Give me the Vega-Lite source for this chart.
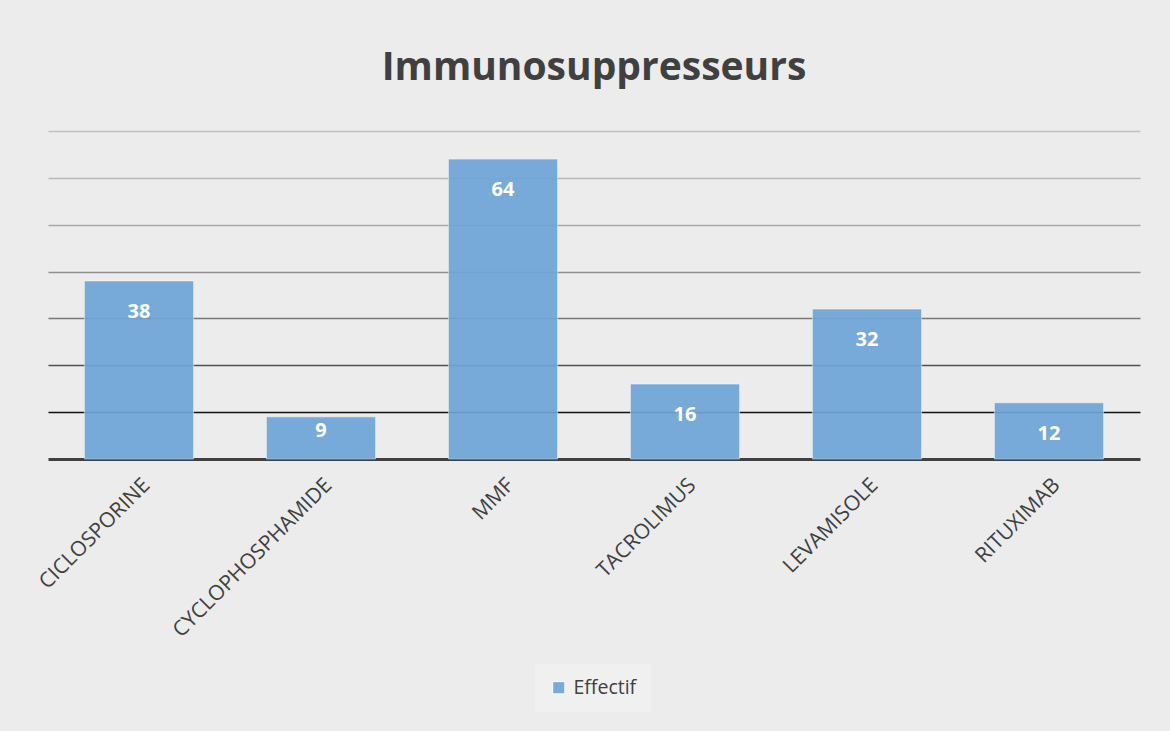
{
  "$schema": "https://vega.github.io/schema/vega-lite/v6.json",
  "width": 1092,
  "height": 328,
  "autosize": {"type": "none"},
  "padding": {"left": 48, "top": 131, "right": 30, "bottom": 272},
  "background": "#ececec",
  "config": {"view": {"stroke": null}},
  "title": {
    "text": "Immunosuppresseurs",
    "font": "Open Sans",
    "fontSize": 39,
    "fontWeight": "bold",
    "color": "#404040",
    "anchor": "middle",
    "offset": 43
  },
  "data": {
    "values": [
      {"med": "CICLOSPORINE", "n": 38, "serie": "Effectif"},
      {"med": "CYCLOPHOSPHAMIDE", "n": 9, "serie": "Effectif"},
      {"med": "MMF", "n": 64, "serie": "Effectif"},
      {"med": "TACROLIMUS", "n": 16, "serie": "Effectif"},
      {"med": "LEVAMISOLE", "n": 32, "serie": "Effectif"},
      {"med": "RITUXIMAB", "n": 12, "serie": "Effectif"}
    ]
  },
  "encoding": {
    "x": {
      "field": "med",
      "type": "nominal",
      "sort": null,
      "scale": {"paddingInner": 0.4, "paddingOuter": 0.2},
      "axis": {
        "title": null,
        "labelAngle": -45,
        "labelFont": "Open Sans",
        "labelFontSize": 21,
        "labelColor": "#404040",
        "labelPadding": 15,
        "labelLimit": 400,
        "ticks": false,
        "domainColor": "#404040",
        "domainWidth": 3,
        "grid": false
      }
    },
    "y": {
      "field": "n",
      "type": "quantitative",
      "scale": {"domain": [0, 70], "nice": false},
      "axis": {
        "title": null,
        "labels": false,
        "ticks": false,
        "domain": false,
        "values": [10, 20, 30, 40, 50, 60, 70],
        "grid": true,
        "gridWidth": 1.5,
        "gridColor": {
          "condition": [
            {"test": "datum.value === 10", "value": "#111111"},
            {"test": "datum.value === 20", "value": "#505050"},
            {"test": "datum.value === 30", "value": "#777777"},
            {"test": "datum.value === 40", "value": "#909090"},
            {"test": "datum.value === 50", "value": "#a8a8a8"},
            {"test": "datum.value === 60", "value": "#b8b8b8"}
          ],
          "value": "#c0c0c0"
        }
      }
    }
  },
  "layer": [
    {
      "mark": {"type": "bar", "opacity": 0.92, "stroke": "#ffffff", "strokeOpacity": 0.5, "strokeWidth": 1},
      "encoding": {
        "color": {
          "field": "serie",
          "type": "nominal",
          "scale": {"range": ["#6fa5d8"]},
          "legend": {
            "title": null,
            "orient": "none",
            "legendX": 487,
            "legendY": 533,
            "symbolType": "square",
            "symbolSize": 150,
            "symbolStrokeColor": "#ffffff",
            "symbolStrokeWidth": 1,
            "labelFont": "Open Sans",
            "labelFontSize": 19.5,
            "labelColor": "#404040",
            "labelOffset": 5,
            "fillColor": "#f0f0f0",
            "padding": 14
          }
        }
      }
    },
    {
      "transform": [{"filter": "datum.n >= 10"}],
      "mark": {"type": "text", "font": "Open Sans", "fontSize": 20, "fontWeight": "bold", "color": "#ffffff", "baseline": "middle", "dy": 31},
      "encoding": {
        "text": {"field": "n", "type": "quantitative"}
      }
    },
    {
      "transform": [{"filter": "datum.n < 10"}],
      "mark": {"type": "text", "font": "Open Sans", "fontSize": 20, "fontWeight": "bold", "color": "#ffffff", "baseline": "middle", "dy": 14},
      "encoding": {
        "text": {"field": "n", "type": "quantitative"}
      }
    }
  ]
}
